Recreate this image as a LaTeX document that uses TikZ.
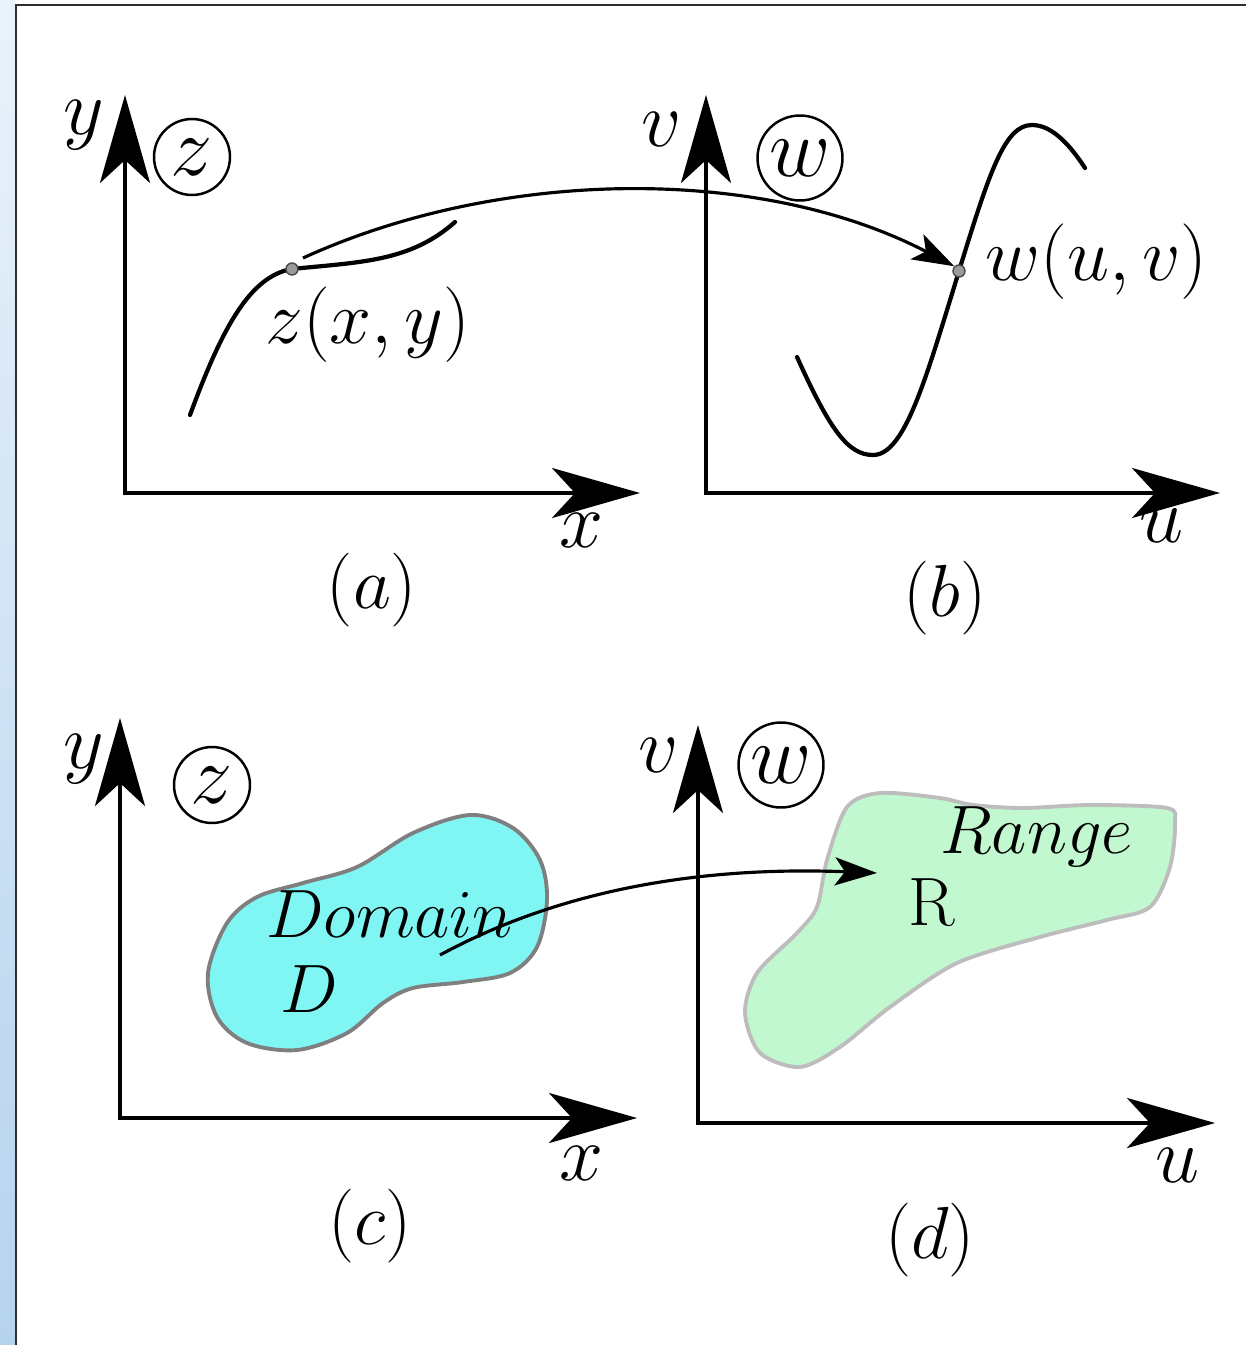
\RequirePackage{fix-cm}
\documentclass[tikz,border=0pt]{standalone}
\usetikzlibrary{arrows.meta}
\definecolor{stripTop}{HTML}{EAF2FA}
\definecolor{stripBot}{HTML}{B6D3EE}
\definecolor{framecol}{HTML}{2E2E2E}
\definecolor{domfill}{HTML}{80F6F4}
\definecolor{domline}{HTML}{7F7F7F}
\definecolor{rngfill}{HTML}{C2F8CF}
\definecolor{rngline}{HTML}{BDBDBD}
\definecolor{dotfill}{HTML}{9A9A9A}
\definecolor{dotline}{HTML}{4A4A4A}
\tikzset{
  bigtip/.tip={Stealth[length=1.76cm,width=1.0cm,inset=0.46cm]},
  smalltip/.tip={Stealth[length=0.84cm,width=0.56cm,inset=0.2cm]},
  axis/.style={line width=2.5pt, line join=miter, {bigtip}-{bigtip}},
  fcurve/.style={line width=2.4pt, line cap=round},
  maparrow/.style={line width=1.8pt, -{smalltip}},
  lbl/.style={font=\fontsize{43}{50}\selectfont, inner sep=0pt, anchor=base west},
  axlbl/.style={font=\fontsize{45}{52}\selectfont, inner sep=0pt, anchor=base west},
  captxt/.style={font=\fontsize{42}{48}\selectfont, inner sep=0pt},
  blobtxt/.style={font=\fontsize{39}{45}\selectfont, inner sep=0pt, anchor=base west},
  circled/.style={draw, circle, line width=1.4pt, inner sep=0pt, font=\fontsize{48}{55}\selectfont},
  gdot/.style={draw=dotline, fill=dotfill, circle, line width=0.8pt, inner sep=0pt, minimum size=0.24cm},
}
\begin{document}
\begin{tikzpicture}[x=0.02cm,y=-0.02cm]
\useasboundingbox (0,0) rectangle (1246,1345);
% window frame
\shade[top color=stripTop,bottom color=stripBot] (0,0) rectangle (15,1345);
\draw[framecol,line width=1.3pt] (16,1345) -- (16,5) -- (1246,5);

% ---------- panel (a)
\coordinate (oa) at (125,493);
\coordinate (ya) at (125,95);
\coordinate (xa) at (640,493);
\draw[axis] (ya) -- (oa) -- (xa);
\node[axlbl] (lya) at (63,134) {$y$};
\node[axlbl] (lxa) at (559,547) {$x$};
\node[circled, minimum size=1.52cm] (cza) at (192,157) {$z$};
\node[captxt] (capa) at (372,590) {$(a)$};
\draw[fcurve] (190,415) .. controls (222,328) and (250,276) .. (292,269)
  .. controls (360,262) and (410,262) .. (455,222);
\node[gdot] (pz) at (292,269) {};
\node[lbl] (lz) at (265,343) {$z(x,y)$};

% ---------- panel (b)
\coordinate (ob) at (706,493);
\coordinate (yb) at (706,95);
\coordinate (xb) at (1220,493);
\draw[axis] (yb) -- (ob) -- (xb);
\node[axlbl] (lvb) at (641,147) {$v$};
\node[axlbl] (lub) at (1139,542) {$u$};
\node[circled, minimum size=1.7cm] (cwb) at (800,158) {$w$};
\node[captxt] (capb) at (945,598) {$(b)$};
\draw[fcurve] (797,357) .. controls (830,430) and (848,455) .. (873,455)
  .. controls (905,455) and (926,378) .. (959,271)
  .. controls (990,170) and (1005,125) .. (1032,125)
  .. controls (1052,125) and (1070,145) .. (1085,168);
\node[gdot] (pw) at (959,271) {};
\node[lbl] (lw) at (985,280) {$w(u,v)$};
\coordinate (ma) at (303,258);
\draw[maparrow] (ma) .. controls (500,168) and (760,165) .. (pw.north west);

% ---------- panel (c)
\coordinate (oc) at (120,1118);
\coordinate (yc) at (120,718);
\coordinate (xc) at (637,1118);
\draw[axis] (yc) -- (oc) -- (xc);
\node[axlbl] (lyc) at (63,768) {$y$};
\node[axlbl] (lxc) at (559,1180) {$x$};
\node[circled, minimum size=1.52cm] (czc) at (212,785) {$z$};
\node[captxt] (capc) at (370,1226) {$(c)$};
\draw[domline, fill=domfill, line width=2.2pt] plot[smooth cycle, tension=0.55] coordinates {
  (208,973) (227,923) (257,897) (303,883) (357,867) (413,833) (470,815) (513,828)
  (540,860) (547,900) (537,947) (510,973) (463,982) (413,988) (383,1003) (347,1033)
  (297,1050) (247,1043) (217,1017)};
\node[blobtxt] (tdom) at (266,937) {$Domain$};
\node[blobtxt] (tD) at (280,1012) {$D$};

% ---------- panel (d)
\coordinate (od) at (698,1123);
\coordinate (yd) at (698,725);
\coordinate (xd) at (1215,1123);
\draw[axis] (yd) -- (od) -- (xd);
\node[axlbl] (lvd) at (638,772) {$v$};
\node[axlbl] (lud) at (1155,1182) {$u$};
\node[circled, minimum size=1.7cm] (cwd) at (781,765) {$w$};
\node[captxt] (capd) at (930,1240) {$(d)$};
\draw[rngline, fill=rngfill, line width=2.2pt] plot[smooth cycle, tension=0.5] coordinates {
  (847,807) (880,793) (940,798) (973,805) (1023,808) (1090,805) (1167,808) (1175,823)
  (1170,867) (1150,907) (1107,920) (1040,937) (957,963) (890,1007) (840,1047)
  (800,1067) (760,1053) (745,1013) (757,973) (797,933) (817,907) (827,860)};
\node[blobtxt] (trng) at (940,853) {$Range$};
\node[blobtxt] (tR) at (908,925) {R};
\coordinate (mc) at (440,955);
\coordinate (md) at (877,873);
\draw[maparrow] (mc) .. controls (560,890) and (700,866) .. (md);
\end{tikzpicture}
\end{document}
